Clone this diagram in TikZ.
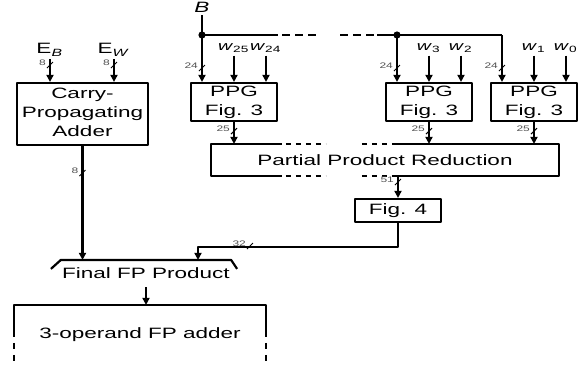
\documentclass[tikz,border=0pt]{standalone}
\usepackage{fontspec}
\setmainfont{Liberation Sans}
\usepackage{graphicx}
\usetikzlibrary{arrows.meta,calc,positioning}
\definecolor{busGray}{HTML}{505050}
\newcommand{\sx}[1]{\scalebox{1.5}[1]{#1}}
\newcommand{\ml}[1]{\sx{\begin{tabular}{@{}c@{}}#1\end{tabular}}}
\tikzset{
  blk/.style={draw,inner sep=0pt,minimum width=43pt,minimum height=19pt},
  txt/.style={inner sep=1pt},
  wlab/.style={inner sep=1pt,font=\fontsize{6.5}{7}\selectfont},
  buslab/.style={font=\fontsize{4}{4}\selectfont,text=busGray,inner sep=0pt},
  pics/bw/.style={code={
      \draw[line width=0.5pt] (-3,3) -- (3,-3);
      \node[buslab,anchor=east] at (-3,-2) {\sx{#1}};}},
}

\begin{document}
\begin{tikzpicture}[>={Triangle[length=3.5pt,width=3.5pt]},x=0.5pt,y=-0.5pt,
    line width=1.1pt,line join=round,font=\fontsize{7.5}{9.5}\selectfont]
    \useasboundingbox (0,0) rectangle (578,366);
    % exponent adder
    \node[blk,minimum width=65.5pt,minimum height=31pt] (cpa) at (82.5,114)
       {\ml{Carry-\\Propagating\\Adder}};
    \node[txt] (eb) at (50,50) {\sx{E\textsubscript{\textit{B}}}};
    \node[txt] (ew) at (114,50) {\sx{E\textsubscript{\textit{W}}}};
    \draw[->] (eb.south) -- (eb.south |- cpa.north);
    \draw[->] (ew.south) -- (ew.south |- cpa.north);
    \pic at (eb.south |- 0,65) {bw=8};
    \pic at (ew.south |- 0,65) {bw=8};
    % partial product generators
    \node[blk] (ppgA) at (234,102) {\ml{PPG\\Fig. 3}};
    \node[blk] (ppgB) at (429,102) {\ml{PPG\\Fig. 3}};
    \node[blk] (ppgC) at (534,102) {\ml{PPG\\Fig. 3}};
    \node[blk,draw=none,minimum width=173pt,minimum height=15pt] (ppr) at (385,160)
       {\sx{Partial Product Reduction}};
    \node[blk,minimum height=11.5pt] (fig4) at (398,210.5) {\sx{Fig. 4}};
    \foreach \p/\hi/\lo in {A/25/24,B/3/2,C/1/0}{
       \node[wlab] (w\hi) at ($(ppg\p.north)+(0,-34)$) {\sx{\textit{w}\textsubscript{\hi}}};
       \node[wlab] (w\lo) at ($(ppg\p.north)+(32,-34)$) {\sx{\textit{w}\textsubscript{\lo}}};
       \draw[->] (w\hi.south) -- (w\hi.south |- ppg\p.north);
       \draw[->] (w\lo.south) -- (w\lo.south |- ppg\p.north);
       \draw[->] (ppg\p.south) -- (ppg\p.south |- ppr.north);
       \pic at ($(ppg\p.south)+(0,9)$) {bw=25};
    }
    % operand B bus
    \node[txt] (B) at (202,7) {\sx{\textit{B}}};
    \coordinate (busA) at (202,35);
    \coordinate (busB) at (397,35);
    \coordinate (busC) at (502,35);
    \draw[->] (B.south) -- (B.south |- ppgA.north);
    \draw (busA) -- ++(76,0);
    \draw[dash pattern=on 4pt off 2.5pt] ($(busA)+(80,0)$) -- ($(busA)+(118,0)$);
    \draw[dash pattern=on 4pt off 2.5pt] ($(busB)+(-57,0)$) -- ($(busB)+(-20,0)$);
    \draw ($(busB)+(-20,0)$) -- (busC);
    \draw[->] (busB) -- (busB |- ppgB.north);
    \draw[->] (busC) -- (busC |- ppgC.north);
    \fill (busA) circle (1.8pt);
    \fill (busB) circle (1.8pt);
    \foreach \c in {busA,busB,busC}
       \pic at (\c |- 0,68) {bw=24};
    % reduction tree outline, broken in the middle
    \draw ($(ppr.north west)+(71,0)$) -- (ppr.north west) -- (ppr.south west) -- ++(71,0);
    \draw[dash pattern=on 2.5pt off 2.5pt] ($(ppr.north west)+(75,0)$) -- ++(40,0)
       ($(ppr.south west)+(75,0)$) -- ++(40,0)
       ($(ppr.north west)+(151,0)$) -- ++(34,0)
       ($(ppr.south west)+(151,0)$) -- ++(34,0);
    \draw ($(ppr.north west)+(185,0)$) -- (ppr.north east) -- (ppr.south east)
       -- ($(ppr.south west)+(185,0)$);
    \draw[->] (fig4.north |- ppr.south) -- (fig4.north);
    \pic at (fig4.north |- 0,182) {bw=51};
    % final product
    \node[txt,inner sep=0pt,minimum width=84pt,minimum height=12.5pt] (fin) at (146,273.5)
       {\sx{Final FP Product}};
    \draw ($(fin.north west)+(-10,9)$) -- (fin.north west) -- (fin.north east) -- ++(6,9);
    \coordinate (finIn) at ($(fin.north)+(52,0)$);
    \draw[->] (fig4.south) -- ++(0,24) -| (finIn);
    \pic at (250,246) {bw=32};
    \draw[->] (cpa.south) -- (cpa.south |- fin.north);
    \pic at (cpa.south |- 0,173) {bw=8};
    % 3-operand adder, cut off at the bottom
    \node[txt,inner sep=0pt,minimum width=125pt,minimum height=29pt] (add3) at (140,335)
       {\sx{3-operand FP adder}};
    \draw[->] (fin.south) -- (fin.south |- add3.north);
    \draw ($(add3.north west)+(0,26)$) -- (add3.north west) -- (add3.north east) -- ++(0,26);
    \draw[dash pattern=on 3pt off 3pt] ($(add3.north west)+(0,26)$) -- ++(0,34)
       ($(add3.north east)+(0,26)$) -- ++(0,34);
  \end{tikzpicture}
\end{document}
